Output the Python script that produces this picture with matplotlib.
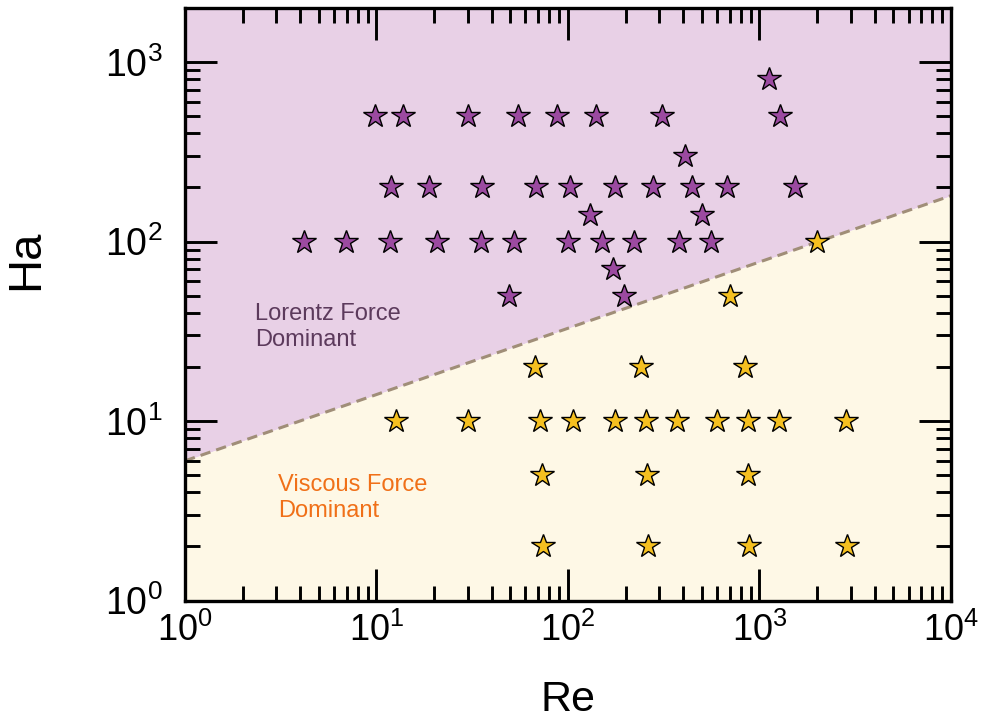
import matplotlib
matplotlib.use("Agg")
import matplotlib.pyplot as plt
import numpy as np
from matplotlib.ticker import LogLocator, FixedFormatter, FixedLocator, NullFormatter

plt.rcParams['font.family'] = ['Liberation Sans', 'DejaVu Sans']
plt.rcParams['mathtext.fontset'] = 'custom'
plt.rcParams['mathtext.rm'] = 'Liberation Sans'

# Lorentz-force dominant cases (purple)
lorentz_re = [9.8, 13.8, 30, 55, 88, 140, 310, 1285,
              1117, 407,
              11.9, 18.9, 35.7, 68, 103, 176, 279, 446, 673, 1540,
              130, 500,
              4.2, 6.9, 11.7, 20.8, 35.2, 52, 100, 150, 221, 380, 560,
              172, 49, 195]
lorentz_ha = [500, 500, 500, 500, 500, 500, 500, 500,
              800, 300,
              200, 200, 200, 200, 200, 200, 200, 200, 200, 200,
              140, 140,
              100, 100, 100, 100, 100, 100, 100, 100, 100, 100, 100,
              70, 50, 50]

# Viscous-force dominant cases (yellow)
viscous_re = [2000, 700,
              67, 240, 838,
              12.6, 30, 71.5, 106, 176, 255, 373, 602, 873, 1260, 2840,
              73, 258, 873,
              74, 262, 880, 2860]
viscous_ha = [100, 50,
              20, 20, 20,
              10, 10, 10, 10, 10, 10, 10, 10, 10, 10, 10,
              5, 5, 5,
              2, 2, 2, 2]

# Boundary line
boundary_re = [1, 1e4]
boundary_ha = [6, 180]

x_ticks = [1, 10, 100, 1000, 10000]
x_labels = ['10$^{0}$', '10$^{1}$', '10$^{2}$', '10$^{3}$', '10$^{4}$']
y_ticks = [1, 10, 100, 1000]
y_labels = ['10$^{0}$', '10$^{1}$', '10$^{2}$', '10$^{3}$']

fig = plt.figure(figsize=(9.86, 7.27), dpi=100)
ax = fig.add_axes([0.1876, 0.174, 0.7769, 0.815])
ax.set_xscale('log')
ax.set_yscale('log')
ax.set_xlim(1, 1e4)
ax.set_ylim(1, 2000)

ax.fill_between(boundary_re, boundary_ha, [2000, 2000], color='#E8D0E6', lw=0, zorder=0)
ax.fill_between(boundary_re, [1, 1], boundary_ha, color='#FEF8E6', lw=0, zorder=0)
ax.plot(boundary_re, boundary_ha, color='#A08E78', lw=2.2, dashes=(3.4, 2.0), zorder=1)

ax.plot(lorentz_re, lorentz_ha, linestyle='none', marker='*', markersize=17.5,
        markerfacecolor='#9B4AA0', markeredgecolor='black', markeredgewidth=1.0, zorder=3)
ax.plot(viscous_re, viscous_ha, linestyle='none', marker='*', markersize=17.5,
        markerfacecolor='#F5C020', markeredgecolor='black', markeredgewidth=1.0, zorder=3)

ax.text(0.091, 0.4616, 'Lorentz Force\nDominant', transform=ax.transAxes,
        fontsize=17, color='#5C3A5C', ha='left', va='center')
ax.text(0.121, 0.173, 'Viscous Force\nDominant', transform=ax.transAxes,
        fontsize=17, color='#F07018', ha='left', va='center')

ax.xaxis.set_major_locator(FixedLocator(x_ticks))
ax.xaxis.set_major_formatter(FixedFormatter(x_labels))
ax.xaxis.set_minor_locator(LogLocator(base=10, subs=np.arange(2, 10), numticks=20))
ax.xaxis.set_minor_formatter(NullFormatter())
ax.yaxis.set_major_locator(FixedLocator(y_ticks))
ax.yaxis.set_major_formatter(FixedFormatter(y_labels))
ax.yaxis.set_minor_locator(LogLocator(base=10, subs=np.arange(2, 10), numticks=20))
ax.yaxis.set_minor_formatter(NullFormatter())

ax.tick_params(which='both', direction='in', top=True, right=True, width=2.1, color='black')
ax.tick_params(which='major', length=23)
ax.tick_params(which='minor', length=11)
ax.tick_params(axis='x', which='major', pad=9, labelsize=26)
ax.tick_params(axis='y', which='major', pad=16, labelsize=27)

for s in ax.spines.values():
    s.set_linewidth(2.4)
    s.set_zorder(5)

ax.set_xlabel('Re', fontsize=31)
ax.xaxis.set_label_coords(0.5, -0.135)
ax.set_ylabel('Ha', fontsize=34)
ax.yaxis.set_label_coords(-0.178, 0.575)

fig.savefig('out.png', dpi=100)
